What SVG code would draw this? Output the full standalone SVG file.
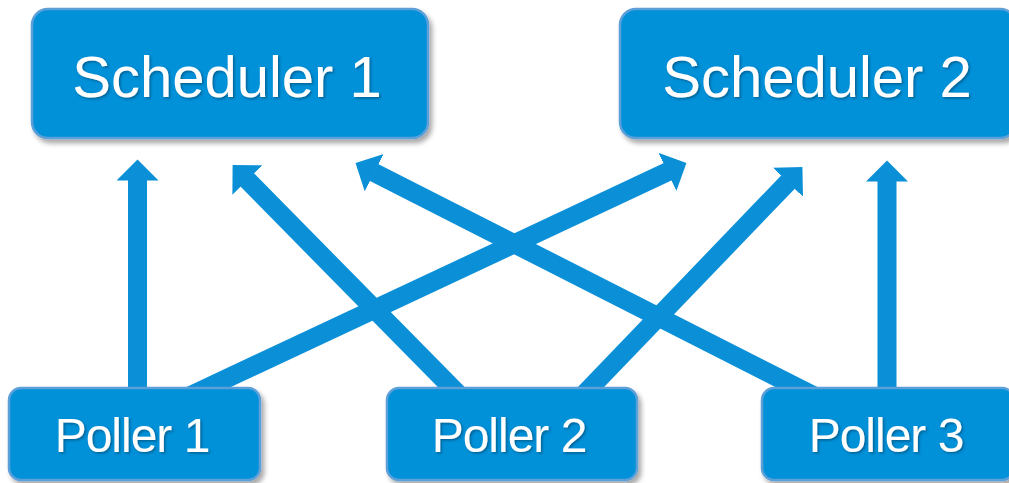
<svg xmlns="http://www.w3.org/2000/svg" width="1009" height="483" viewBox="0 0 1009 483">
<style>
.box{fill:#0391d9;stroke:#5d9fd8;stroke-width:2.5;filter:url(#sh)}
.lbl{fill:#ffffff;font-family:"Liberation Sans",Arial,sans-serif;text-anchor:middle;filter:url(#tsh)}
.big{font-size:58px}
.small{font-size:48px;letter-spacing:-1px}
.arr{stroke:#0b90d8;stroke-width:19;fill:none;marker-end:url(#head)}
</style>
<defs>
<filter id="sh" x="-10%" y="-10%" width="125%" height="130%">
<feDropShadow dx="3" dy="4" stdDeviation="2.5" flood-color="#000" flood-opacity="0.35"/>
</filter>
<filter id="tsh" x="-10%" y="-10%" width="125%" height="130%">
<feDropShadow dx="1.5" dy="1.5" stdDeviation="1" flood-color="#003050" flood-opacity="0.5"/>
</filter>
<marker id="head" markerUnits="userSpaceOnUse" markerWidth="22" markerHeight="42" viewBox="0 0 22 42" refX="0.5" refY="21" orient="auto">
<path d="M0,0 L21,21 L0,42 Z" fill="#0b90d8"/>
</marker>
</defs>
<g id="connectors">
<line class="arr" x1="137.5" y1="400" x2="137.5" y2="180"/>
<line class="arr" x1="464" y1="400" x2="247" y2="179.7"/>
<line class="arr" x1="822" y1="400" x2="373.8" y2="172.4"/>
<line class="arr" x1="181" y1="400" x2="667.9" y2="171.7"/>
<line class="arr" x1="578.5" y1="400" x2="788.2" y2="181.9"/>
<line class="arr" x1="887" y1="400" x2="887" y2="181"/>
</g>
<g id="scheduler1">
<rect class="box" x="32" y="9" width="396" height="129" rx="16"/>
<text class="lbl big" x="227" y="97">Scheduler 1</text>
</g>
<g id="scheduler2">
<rect class="box" x="620" y="9" width="396" height="129" rx="16"/>
<text class="lbl big" x="817" y="97">Scheduler 2</text>
</g>
<g id="poller1">
<rect class="box" x="9" y="388" width="251" height="92" rx="12"/>
<text class="lbl small" x="132" y="452">Poller 1</text>
</g>
<g id="poller2">
<rect class="box" x="387" y="388" width="250" height="92" rx="12"/>
<text class="lbl small" x="509" y="452">Poller 2</text>
</g>
<g id="poller3">
<rect class="box" x="762" y="388" width="252" height="92" rx="12"/>
<text class="lbl small" x="886" y="452">Poller 3</text>
</g>
</svg>
